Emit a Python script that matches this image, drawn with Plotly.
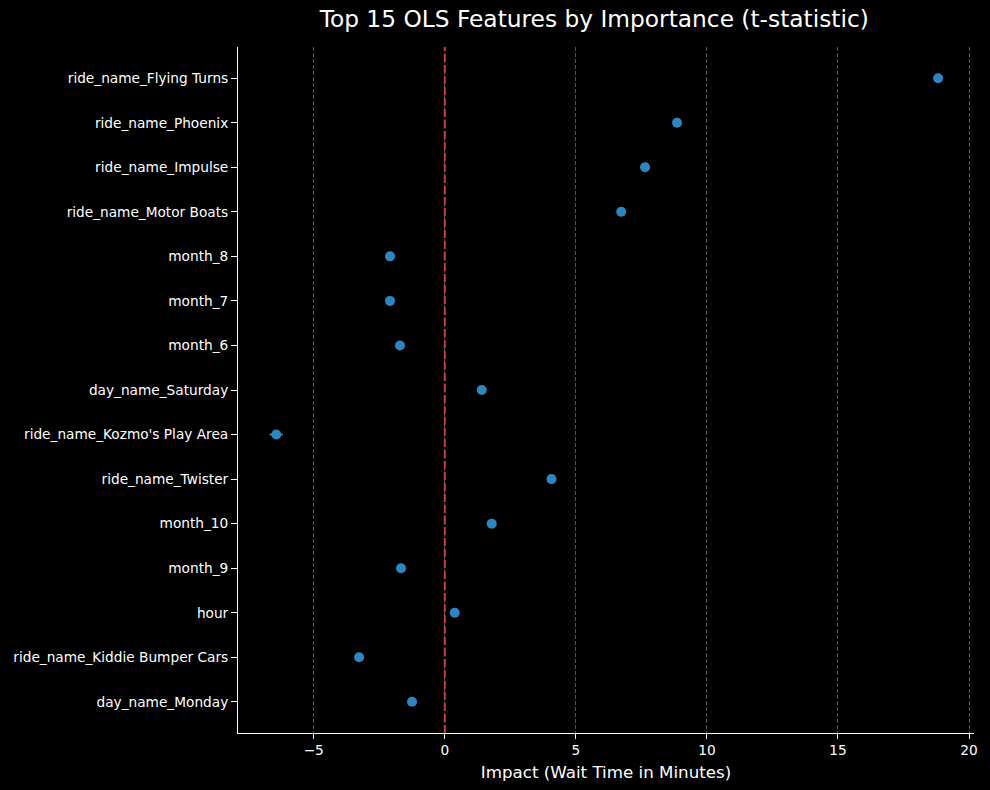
import plotly.graph_objects as go

features = [
    "ride_name_Flying Turns", "ride_name_Phoenix", "ride_name_Impulse",
    "ride_name_Motor Boats", "month_8", "month_7", "month_6",
    "day_name_Saturday", "ride_name_Kozmo's Play Area", "ride_name_Twister",
    "month_10", "month_9", "hour", "ride_name_Kiddie Bumper Cars",
    "day_name_Monday",
]
impact = [18.82, 8.86, 7.64, 6.73, -2.09, -2.09, -1.71, 1.41, -6.43,
          4.07, 1.79, -1.67, 0.38, -3.27, -1.25]
ci_half = [0.1, 0.1, 0.1, 0.1, 0.05, 0.05, 0.05, 0.05, 0.25,
           0.1, 0.05, 0.05, 0.03, 0.1, 0.05]
x_ticks = [-5, 0, 5, 10, 15, 20]

fig = go.Figure()
fig.add_trace(go.Scatter(
    x=impact, y=features, mode="markers",
    marker=dict(color="#2e86c1", size=10),
    error_x=dict(type="data", array=ci_half, color="#999999", thickness=1.5, width=0),
    showlegend=False,
))
fig.add_vline(x=0, line=dict(color="#c8402f", dash="8px,3px", width=2))

fig.update_layout(
    width=990, height=790,
    paper_bgcolor="black", plot_bgcolor="black",
    margin=dict(l=238, r=12, t=47, b=57),
    font=dict(family="DejaVu Sans", color="white", size=13.7),
    title=dict(text="Top 15 OLS Features by Importance (t-statistic)",
               x=0.484, xref="paper", xanchor="center", y=0.976, yanchor="middle",
               font=dict(size=23.3, color="white")),
)
fig.update_xaxes(
    range=[-7.89, 20.19], tickvals=x_ticks,
    ticktext=["\u22125", "0", "5", "10", "15", "20"],
    showgrid=True, gridcolor="#555555", griddash="4px,2px", gridwidth=1,
    zeroline=False, showline=True, linecolor="white", linewidth=1,
    ticks="outside", ticklen=5, tickcolor="white",
    title=dict(text="Impact (Wait Time in Minutes)", font=dict(size=16.7), standoff=8),
)
fig.update_yaxes(
    range=[14.7, -0.7], showgrid=False, zeroline=False,
    showline=True, linecolor="white", linewidth=1,
    ticks="outside", ticklen=6, tickcolor="white",
    categoryorder="array", categoryarray=features,
)
fig.write_html("out.html")
